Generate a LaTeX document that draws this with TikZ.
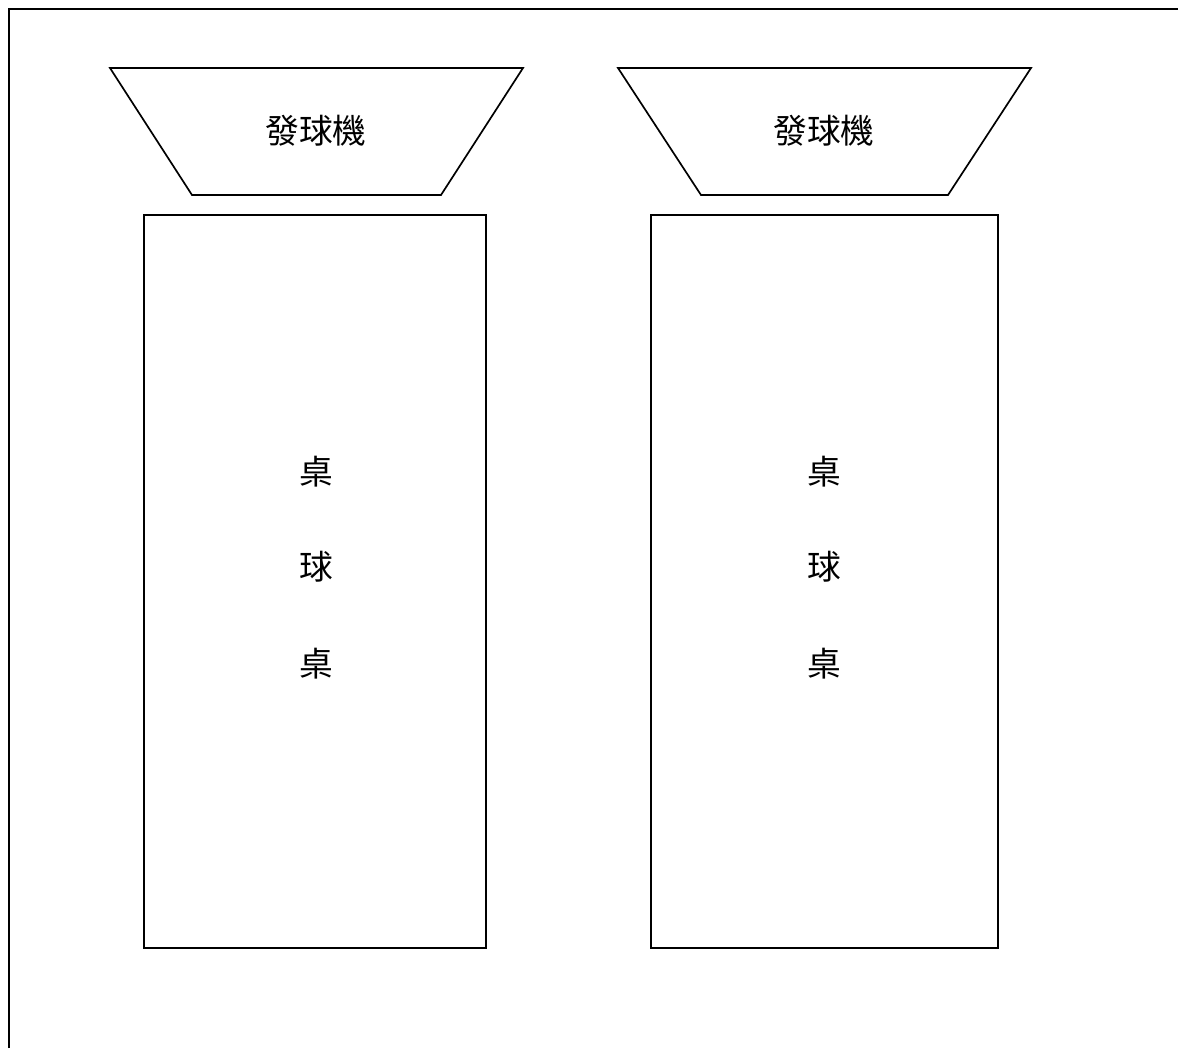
\documentclass[tikz,border=0pt]{standalone}
\usepackage{fontspec}
\newfontfamily\cjk{Noto Sans CJK TC}
\usepackage{tikz}
\usetikzlibrary{calc}
\usetikzlibrary{positioning}

\begin{document}
\begin{tikzpicture}[x=0.025cm, y=-0.025cm, line width=1.2pt,
    label text/.style={font=\cjk\fontsize{24}{28}\selectfont, inner sep=0pt}]
    \useasboundingbox (0, 0) rectangle (1178, 1048);

    % open frame (cut off at right and bottom)
    \draw (9, 1048) -- (9, 9) -- (1178, 9);

    % ball machines
    \draw (110, 68) -- (523, 68) -- (441, 195) -- (192, 195) -- cycle;
    \draw (618, 68) -- (1031, 68) -- (948, 195) -- (701, 195) -- cycle;
    \node [label text] (machineA) at (316, 131) {發球機};
    \node [label text] (machineB) at (824, 131) {發球機};

    % tables
    \draw (144, 215) rectangle (486, 948);
    \draw (651, 215) rectangle (998, 948);

    \node [label text] (tableAa) at (316, 472) {桌};
    \node [label text] (tableAb) at (316, 567) {球};
    \node [label text] (tableAc) at (316, 664) {桌};

    \node [label text] (tableBa) at (824, 472) {桌};
    \node [label text] (tableBb) at (824, 567) {球};
    \node [label text] (tableBc) at (824, 664) {桌};

  \end{tikzpicture}
\end{document}
